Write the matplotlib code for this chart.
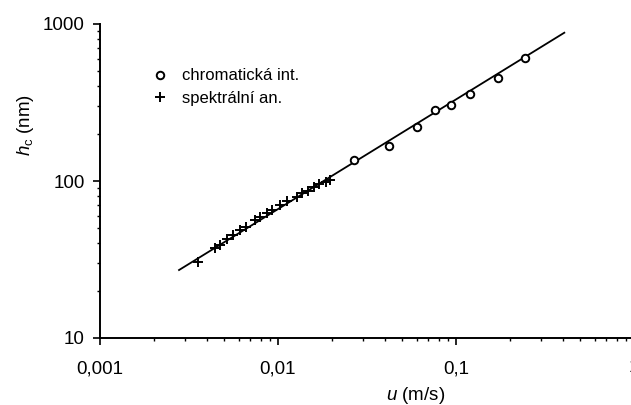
import numpy as np
import matplotlib
matplotlib.use('Agg')
import matplotlib.pyplot as plt
import matplotlib.transforms as mtransforms

plt.rcParams['font.family'] = ['Liberation Sans', 'DejaVu Sans']
plt.rcParams['mathtext.fontset'] = 'custom'
plt.rcParams['mathtext.rm'] = 'Liberation Sans'
plt.rcParams['mathtext.it'] = 'Liberation Sans:italic'

# chromatic interferometry (open circles)
chrom_u = [0.0266, 0.0420, 0.0600, 0.0767, 0.0937, 0.1196, 0.1717, 0.2455]
chrom_h = [136, 167, 222, 283, 305, 358, 453, 605]

# spectral analysis (plus markers)
spek_u = [0.00354, 0.00445, 0.00474, 0.00518, 0.00558, 0.00611, 0.00659,
          0.00747, 0.00796, 0.00870, 0.00927, 0.01027, 0.01125, 0.01283,
          0.01368, 0.01479, 0.01601, 0.01710, 0.01850, 0.01950]
spek_h = [30.5, 37.4, 39.1, 42.7, 45.3, 48.7, 50.9, 56.4, 59.0, 62.5,
          65.3, 70.3, 74.6, 79.1, 83.9, 86.4, 91.6, 95.7, 98.5, 101.5]

# fitted line end points
fit_u = [0.00278, 0.406]
fit_h = [27.1, 880]

x_ticks = [0.001, 0.01, 0.1]
x_labels = ['0,001', '0,01', '0,1']
y_ticks = [10, 100, 1000]
y_labels = ['10', '100', '1000']

W, H = 631, 405
fig = plt.figure(figsize=(W / 100, H / 100), dpi=100)
ax = fig.add_axes([100 / W, (H - 338) / H, 531 / W, 314 / H])

ax.set_xscale('log')
ax.set_yscale('log')
ax.set_xlim(0.001, 0.962)
ax.set_ylim(10, 1000)

ax.plot(fit_u, fit_h, color='black', lw=1.3, zorder=2)
ax.plot(chrom_u, chrom_h, ls='none', marker='o', ms=5.4, mfc='white',
        mec='black', mew=1.4, label='chromatická int.', zorder=3)
ax.plot(spek_u, spek_h, ls='none', marker='+', ms=6.5, color='black',
        mew=1.4, label='spektrální an.', zorder=3)

ax.spines['top'].set_visible(False)
ax.spines['right'].set_visible(False)
ax.spines['left'].set_linewidth(1.4)
ax.spines['bottom'].set_linewidth(1.4)

ax.set_xticks(x_ticks)
ax.set_xticklabels(x_labels)
ax.set_yticks(y_ticks)
ax.set_yticklabels(y_labels)
ax.tick_params(which='major', direction='out', length=5, width=1.2,
               labelsize=13.5)
ax.tick_params(axis='x', which='major', pad=11)
ax.tick_params(axis='y', which='major', pad=6)
ax.tick_params(which='minor', direction='out', length=2.2, width=1.0)

# "1" label just past the right edge of the x range
trans = mtransforms.blended_transform_factory(ax.transData, ax.transAxes)
ax.text(1.0, -0.095, '1', transform=trans, ha='center', va='center',
        fontsize=13.5, clip_on=False)

fig.text(416 / W, 1 - 396 / H, r'$u$ (m/s)', ha='center', va='center',
         fontsize=13.5)
fig.text(26 / W, 1 - 125 / H, r'$h_{\mathrm{c}}$ (nm)', ha='center',
         va='center', rotation=90, fontsize=13.5)

ax.legend(loc='upper left', bbox_to_anchor=(0.085, 0.88), frameon=False,
          handlelength=1.0, handletextpad=0.8, labelspacing=0.45,
          fontsize=12, borderaxespad=0)

fig.savefig('out.png', dpi=100)
